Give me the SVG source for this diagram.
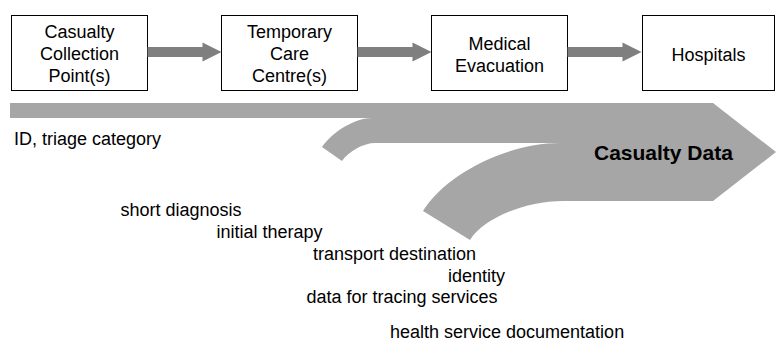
<svg xmlns="http://www.w3.org/2000/svg" width="776" height="343" viewBox="0 0 776 343">
  <style>
    text { font-family: "Liberation Sans", Arial, sans-serif; fill: #000; }
    .box { fill: #fff; stroke: #000; stroke-width: 1; }
    .node-text { font-size: 18px; text-anchor: middle; }
    .label { font-size: 18px; }
    .flow { fill: #7f7f7f; }
    .band { fill: #a6a6a6; }
    .band-title { font-size: 21px; font-weight: bold; }
  </style>
  <defs>
    <!-- block arrow pointing right, 74 px long, centred on y=0 -->
    <path id="block-arrow" d="M0,-5 H55 V-9.5 L74,0 L55,9.5 V5 H0 Z"/>
  </defs>

  <!-- process stages -->
  <g id="ccp">
    <rect class="box" x="11.5" y="15.5" width="136" height="75"/>
    <text class="node-text" x="79.5" y="38">Casualty</text>
    <text class="node-text" x="79.5" y="60">Collection</text>
    <text class="node-text" x="79.5" y="81.5">Point(s)</text>
  </g>
  <g id="tcc">
    <rect class="box" x="221.5" y="15.5" width="136" height="75"/>
    <text class="node-text" x="289.5" y="38">Temporary</text>
    <text class="node-text" x="289.5" y="60">Care</text>
    <text class="node-text" x="289.5" y="81.5">Centre(s)</text>
  </g>
  <g id="medevac">
    <rect class="box" x="431.5" y="15.5" width="136" height="75"/>
    <text class="node-text" x="499.5" y="49.5">Medical</text>
    <text class="node-text" x="499.5" y="71.5">Evacuation</text>
  </g>
  <g id="hospitals">
    <rect class="box" x="642.5" y="15.5" width="132" height="75"/>
    <text class="node-text" x="708.5" y="60.5">Hospitals</text>
  </g>

  <!-- stage-to-stage arrows -->
  <g id="connectors">
    <use href="#block-arrow" class="flow" x="147.5" y="52"/>
    <use href="#block-arrow" class="flow" x="357.5" y="52"/>
    <use href="#block-arrow" class="flow" x="567.5" y="52"/>
  </g>

  <!-- casualty data stream with merging branches -->
  <g id="casualty-data">
    <path class="band" d="M10,103 H713 L776,152 L713,201 H563
      C525,201 483,218.5 470,240
      L423,211
      C446,173.6 508,143 560,143
      H375
      C363.8,143 349,151 342,161
      L322,147
      C333,131 355.5,118 372,118
      H10 Z"/>
    <text class="band-title" x="594" y="160">Casualty Data</text>
  </g>

  <!-- data items -->
  <g id="data-items">
    <text class="label" x="14" y="144.5">ID, triage category</text>
    <text class="label" x="120.5" y="216">short diagnosis</text>
    <text class="label" x="216.5" y="237.5">initial therapy</text>
    <text class="label" x="313" y="259.5">transport destination</text>
    <text class="label" x="505" y="281.5" text-anchor="end">identity</text>
    <text class="label" x="306.5" y="303">data for tracing services</text>
    <text class="label" x="390" y="338">health service documentation</text>
  </g>
</svg>
